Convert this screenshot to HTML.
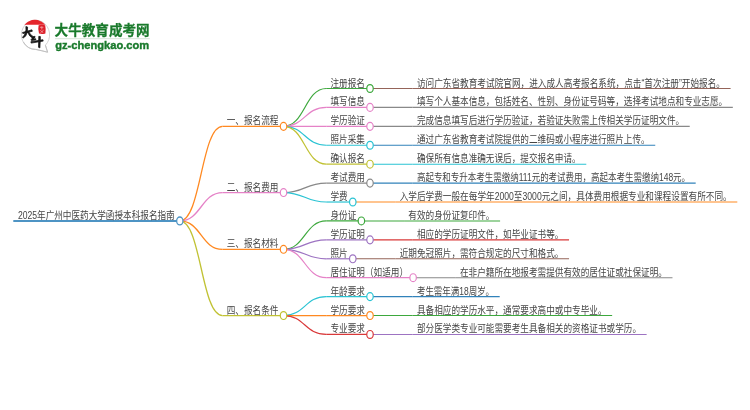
<!DOCTYPE html>
<html lang="zh-CN">
<head>
<meta charset="utf-8">
<title>2025年广州中医药大学函授本科报名指南</title>
<style>
html,body{margin:0;padding:0;background:#fff}
body{width:750px;height:410px;overflow:hidden;font-family:"Liberation Sans",sans-serif}
svg{display:block;filter:blur(0.27px)}
.t text{font-family:"Liberation Sans","Noto Sans CJK SC",sans-serif;font-size:10.5px;fill:#454545}
</style>
</head>
<body>
<svg width="750" height="410" viewBox="0 0 750 410">
<rect width="750" height="410" fill="#fff"/>
<g id="logo">
<path d="M45.4 45.2L47.6 52.2Q42 50.7 35.6 49.4A14.1 14.6 0 1 1 45.4 45.2z" fill="#fff" stroke="#cfcfcf" stroke-width="0.9" stroke-linejoin="round"/>
<path d="M23.4 42A14.1 14.6 0 0 0 35.6 49.4Q42 50.7 47.6 52.2L45.4 45.2" fill="none" stroke="#bdbdbd" stroke-width="0.9" stroke-linejoin="round"/>
<path d="M24.4 24.8A13.9 14.6 0 0 1 45.3 24.8z" fill="#e5262c"/>
<path d="M38.6 25.2q3.4-.9 6.6.1q.9 4.2.2 8.2q-3.3 1-6.4.1q-1.3-4.2-.4-8.4z" fill="#dc1f2a"/>
<path d="M40 27.3h3.4M41.8 26.3v3.2M40.3 30.4l3 2.3M43.6 30.2l-3.2 2.6" stroke="#f4a9a9" stroke-width="0.75" fill="none"/>
<g fill="#161616" stroke="#161616" stroke-width="0.75" stroke-linejoin="round"><path d="M22.5 32.5L31.9 29.8L32.3 31.3L22.9 33.6z"/><path d="M25.9 26.5L27.6 27.1Q27.9 32 26 35.4Q24.8 37.3 23 38.1L22.5 37.3Q24.7 35.3 25.5 32.4Q26.2 29.8 25.9 26.5z"/><path d="M27.2 31.8L28.5 31.5Q30.3 35.2 34.4 37.4L33.6 39Q29.3 36.7 27.2 31.8z"/><path d="M34.1 36.1L35.3 36.9L33 39.1L35.7 38.7L35.8 39.9L31.4 40.6L31.1 39.6z"/><path d="M30.9 41.7L42.9 39.7L43.2 41.1L31.2 43.1z"/><path d="M38.8 36.3L40.4 36.6L39.9 47.9L38.5 47.3z"/></g>
<text x="54.6" y="35.1" textLength="95" lengthAdjust="spacingAndGlyphs" font-family="'Liberation Sans','Noto Sans CJK SC',sans-serif" font-size="13.5" font-weight="700" fill="#1a7a2c" stroke="#1a7a2c" stroke-width="0.3">大牛教育成考网</text>
<path d="M55 38.7H149.8" stroke="#c9dccc" stroke-width="0.8"/>
<text x="55.2" y="48.9" font-family="'Liberation Sans',sans-serif" font-weight="700" font-size="11.6" textLength="94" lengthAdjust="spacingAndGlyphs" fill="#1a7a2c" stroke="#1a7a2c" stroke-width="0.4">gz-chengkao.com</text>
</g>
<g id="links" fill="none" stroke-linecap="butt">
<path d="M370.01 88.5H412.71" stroke="#956459" stroke-width="1.1"/>
<path d="M370.01 107.42H412.71" stroke="#898989" stroke-width="1.1"/>
<path d="M370.01 126.34H412.71" stroke="#898989" stroke-width="1.1"/>
<path d="M370.01 145.26H412.71" stroke="#3182ba" stroke-width="1.1"/>
<path d="M370.01 164.18H412.71" stroke="#2ac3d3" stroke-width="1.1"/>
<path d="M283.53 126.34C304.88 126.34 304.88 88.5 326.23 88.5" stroke="#3da83d" stroke-width="1.2"/>
<path d="M283.53 126.34C304.88 126.34 304.88 107.42 326.23 107.42" stroke="#e582c7" stroke-width="1.2"/>
<path d="M283.53 126.34H326.23" stroke="#e582c7" stroke-width="1.2"/>
<path d="M283.53 126.34C304.88 126.34 304.88 145.26 326.23 145.26" stroke="#2ac3d3" stroke-width="1.2"/>
<path d="M283.53 126.34C304.88 126.34 304.88 164.18 326.23 164.18" stroke="#c1c234" stroke-width="1.2"/>
<path d="M370.01 183.1H412.71" stroke="#3182ba" stroke-width="1.1"/>
<path d="M352.77 202.02H395.47" stroke="#ff8921" stroke-width="1.1"/>
<path d="M283.53 192.56C304.88 192.56 304.88 183.1 326.23 183.1" stroke="#898989" stroke-width="1.2"/>
<path d="M283.53 192.56C304.88 192.56 304.88 202.02 326.23 202.02" stroke="#2ac3d3" stroke-width="1.2"/>
<path d="M361.39 220.94H404.09" stroke="#3da83d" stroke-width="1.1"/>
<path d="M370.01 239.86H412.71" stroke="#d93839" stroke-width="1.1"/>
<path d="M352.77 258.78H395.47" stroke="#956459" stroke-width="1.1"/>
<path d="M413.11 277.7H455.81" stroke="#898989" stroke-width="1.1"/>
<path d="M283.53 249.32C304.88 249.32 304.88 220.94 326.23 220.94" stroke="#3da83d" stroke-width="1.2"/>
<path d="M283.53 249.32C304.88 249.32 304.88 239.86 326.23 239.86" stroke="#9d73c2" stroke-width="1.2"/>
<path d="M283.53 249.32C304.88 249.32 304.88 258.78 326.23 258.78" stroke="#9d73c2" stroke-width="1.2"/>
<path d="M283.53 249.32C304.88 249.32 304.88 277.7 326.23 277.7" stroke="#e582c7" stroke-width="1.2"/>
<path d="M370.01 296.62H412.71" stroke="#3182ba" stroke-width="1.1"/>
<path d="M370.01 315.54H412.71" stroke="#3da83d" stroke-width="1.1"/>
<path d="M370.01 334.46H412.71" stroke="#9d73c2" stroke-width="1.1"/>
<path d="M283.53 315.54C304.88 315.54 304.88 296.62 326.23 296.62" stroke="#2ac3d3" stroke-width="1.2"/>
<path d="M283.53 315.54H326.23" stroke="#ff8921" stroke-width="1.2"/>
<path d="M283.53 315.54C304.88 315.54 304.88 334.46 326.23 334.46" stroke="#d93839" stroke-width="1.2"/>
<path d="M179.81 220.94C201.16 220.94 201.16 126.34 222.51 126.34" stroke="#ff8921" stroke-width="1.3"/>
<path d="M179.81 220.94C201.16 220.94 201.16 192.56 222.51 192.56" stroke="#e582c7" stroke-width="1.3"/>
<path d="M179.81 220.94C201.16 220.94 201.16 249.32 222.51 249.32" stroke="#ff8921" stroke-width="1.3"/>
<path d="M179.81 220.94C201.16 220.94 201.16 315.54 222.51 315.54" stroke="#c1c234" stroke-width="1.3"/>
</g>
<g id="lines" fill="none">
<path d="M412.71 88.5H730.59" stroke="#956459" stroke-width="1.1"/>
<path d="M326.23 88.5H370.01" stroke="#3da83d" stroke-width="1.2"/>
<path d="M412.71 107.42H732.83" stroke="#898989" stroke-width="1.1"/>
<path d="M326.23 107.42H370.01" stroke="#e582c7" stroke-width="1.2"/>
<path d="M412.71 126.34H689.73" stroke="#898989" stroke-width="1.1"/>
<path d="M326.23 126.34H370.01" stroke="#e582c7" stroke-width="1.2"/>
<path d="M412.71 145.26H655.25" stroke="#3182ba" stroke-width="1.1"/>
<path d="M326.23 145.26H370.01" stroke="#2ac3d3" stroke-width="1.2"/>
<path d="M412.71 164.18H586.29" stroke="#2ac3d3" stroke-width="1.1"/>
<path d="M326.23 164.18H370.01" stroke="#c1c234" stroke-width="1.2"/>
<path d="M222.51 126.34H283.53" stroke="#ff8921" stroke-width="1.3"/>
<path d="M412.71 183.1H695.68" stroke="#3182ba" stroke-width="1.1"/>
<path d="M326.23 183.1H370.01" stroke="#898989" stroke-width="1.2"/>
<path d="M395.47 202.02H737.31" stroke="#ff8921" stroke-width="1.1"/>
<path d="M326.23 202.02H352.77" stroke="#2ac3d3" stroke-width="1.2"/>
<path d="M222.51 192.56H283.53" stroke="#e582c7" stroke-width="1.3"/>
<path d="M404.09 220.94H500.09" stroke="#3da83d" stroke-width="1.1"/>
<path d="M326.23 220.94H361.39" stroke="#3da83d" stroke-width="1.2"/>
<path d="M412.71 239.86H569.05" stroke="#d93839" stroke-width="1.1"/>
<path d="M326.23 239.86H370.01" stroke="#9d73c2" stroke-width="1.2"/>
<path d="M395.47 258.78H569.05" stroke="#956459" stroke-width="1.1"/>
<path d="M326.23 258.78H352.77" stroke="#9d73c2" stroke-width="1.2"/>
<path d="M455.81 277.7H672.49" stroke="#898989" stroke-width="1.1"/>
<path d="M326.23 277.7H413.11" stroke="#e582c7" stroke-width="1.2"/>
<path d="M222.51 249.32H283.53" stroke="#ff8921" stroke-width="1.3"/>
<path d="M412.71 296.62H499.7" stroke="#3182ba" stroke-width="1.1"/>
<path d="M326.23 296.62H370.01" stroke="#2ac3d3" stroke-width="1.2"/>
<path d="M412.71 315.54H612.15" stroke="#3da83d" stroke-width="1.1"/>
<path d="M326.23 315.54H370.01" stroke="#ff8921" stroke-width="1.2"/>
<path d="M412.71 334.46H646.63" stroke="#9d73c2" stroke-width="1.1"/>
<path d="M326.23 334.46H370.01" stroke="#d93839" stroke-width="1.2"/>
<path d="M222.51 315.54H283.53" stroke="#c1c234" stroke-width="1.3"/>
<path d="M13.3 220.94H179.81" stroke="#4e94c4" stroke-width="2.1"/>
</g>
<g id="circles" fill="#fff">
<ellipse cx="370.01" cy="88.5" rx="3.25" ry="3.95" stroke="#3da83d" stroke-width="1.2"/>
<ellipse cx="370.01" cy="107.42" rx="3.25" ry="3.95" stroke="#e582c7" stroke-width="1.2"/>
<ellipse cx="370.01" cy="126.34" rx="3.25" ry="3.95" stroke="#e582c7" stroke-width="1.2"/>
<ellipse cx="370.01" cy="145.26" rx="3.25" ry="3.95" stroke="#2ac3d3" stroke-width="1.2"/>
<ellipse cx="370.01" cy="164.18" rx="3.25" ry="3.95" stroke="#c1c234" stroke-width="1.2"/>
<ellipse cx="283.53" cy="126.34" rx="3.25" ry="3.95" stroke="#ff8921" stroke-width="1.2"/>
<ellipse cx="370.01" cy="183.1" rx="3.25" ry="3.95" stroke="#898989" stroke-width="1.2"/>
<ellipse cx="352.77" cy="202.02" rx="3.25" ry="3.95" stroke="#2ac3d3" stroke-width="1.2"/>
<ellipse cx="283.53" cy="192.56" rx="3.25" ry="3.95" stroke="#e582c7" stroke-width="1.2"/>
<ellipse cx="361.39" cy="220.94" rx="3.25" ry="3.95" stroke="#3da83d" stroke-width="1.2"/>
<ellipse cx="370.01" cy="239.86" rx="3.25" ry="3.95" stroke="#9d73c2" stroke-width="1.2"/>
<ellipse cx="352.77" cy="258.78" rx="3.25" ry="3.95" stroke="#9d73c2" stroke-width="1.2"/>
<ellipse cx="413.11" cy="277.7" rx="3.25" ry="3.95" stroke="#e582c7" stroke-width="1.2"/>
<ellipse cx="283.53" cy="249.32" rx="3.25" ry="3.95" stroke="#ff8921" stroke-width="1.2"/>
<ellipse cx="370.01" cy="296.62" rx="3.25" ry="3.95" stroke="#2ac3d3" stroke-width="1.2"/>
<ellipse cx="370.01" cy="315.54" rx="3.25" ry="3.95" stroke="#ff8921" stroke-width="1.2"/>
<ellipse cx="370.01" cy="334.46" rx="3.25" ry="3.95" stroke="#d93839" stroke-width="1.2"/>
<ellipse cx="283.53" cy="315.54" rx="3.25" ry="3.95" stroke="#c1c234" stroke-width="1.2"/>
<ellipse cx="179.81" cy="220.94" rx="3.15" ry="3.95" stroke="#4e94c4" stroke-width="1.3"/>
</g>
<g class="t">
<text x="416.91" y="86.5" textLength="308.08" lengthAdjust="spacingAndGlyphs">访问广东省教育考试院官网，进入成人高考报名系统，点击“首次注册”开始报名。</text>
<text x="330.43" y="86.5" textLength="34.48" lengthAdjust="spacingAndGlyphs">注册报名</text>
<text x="416.91" y="105.42" textLength="310.32" lengthAdjust="spacingAndGlyphs">填写个人基本信息，包括姓名、性别、身份证号码等，选择考试地点和专业志愿。</text>
<text x="330.43" y="105.42" textLength="34.48" lengthAdjust="spacingAndGlyphs">填写信息</text>
<text x="416.91" y="124.34" textLength="267.22" lengthAdjust="spacingAndGlyphs">完成信息填写后进行学历验证，若验证失败需上传相关学历证明文件。</text>
<text x="330.43" y="124.34" textLength="34.48" lengthAdjust="spacingAndGlyphs">学历验证</text>
<text x="416.91" y="143.26" textLength="232.74" lengthAdjust="spacingAndGlyphs">通过广东省教育考试院提供的二维码或小程序进行照片上传。</text>
<text x="330.43" y="143.26" textLength="34.48" lengthAdjust="spacingAndGlyphs">照片采集</text>
<text x="416.91" y="162.18" textLength="163.78" lengthAdjust="spacingAndGlyphs">确保所有信息准确无误后，提交报名申请。</text>
<text x="330.43" y="162.18" textLength="34.48" lengthAdjust="spacingAndGlyphs">确认报名</text>
<text x="226.71" y="124.34" textLength="51.72" lengthAdjust="spacingAndGlyphs">一、报名流程</text>
<text x="416.91" y="181.1" textLength="273.17" lengthAdjust="spacingAndGlyphs">高起专和专升本考生需缴纳111元的考试费用，高起本考生需缴纳148元。</text>
<text x="330.43" y="181.1" textLength="34.48" lengthAdjust="spacingAndGlyphs">考试费用</text>
<text x="399.67" y="200.02" textLength="332.04" lengthAdjust="spacingAndGlyphs">入学后学费一般在每学年2000至3000元之间，具体费用根据专业和课程设置有所不同。</text>
<text x="330.43" y="200.02" textLength="17.24" lengthAdjust="spacingAndGlyphs">学费</text>
<text x="226.71" y="190.56" textLength="51.72" lengthAdjust="spacingAndGlyphs">二、报名费用</text>
<text x="408.29" y="218.94" textLength="86.2" lengthAdjust="spacingAndGlyphs">有效的身份证复印件。</text>
<text x="330.43" y="218.94" textLength="25.86" lengthAdjust="spacingAndGlyphs">身份证</text>
<text x="416.91" y="237.86" textLength="146.54" lengthAdjust="spacingAndGlyphs">相应的学历证明文件，如毕业证书等。</text>
<text x="330.43" y="237.86" textLength="34.48" lengthAdjust="spacingAndGlyphs">学历证明</text>
<text x="399.67" y="256.78" textLength="163.78" lengthAdjust="spacingAndGlyphs">近期免冠照片，需符合规定的尺寸和格式。</text>
<text x="330.43" y="256.78" textLength="17.24" lengthAdjust="spacingAndGlyphs">照片</text>
<text x="460.01" y="275.7" textLength="206.88" lengthAdjust="spacingAndGlyphs">在非户籍所在地报考需提供有效的居住证或社保证明。</text>
<text x="330.43" y="275.7" textLength="77.58" lengthAdjust="spacingAndGlyphs">居住证明（如适用）</text>
<text x="226.71" y="247.32" textLength="51.72" lengthAdjust="spacingAndGlyphs">三、报名材料</text>
<text x="416.91" y="294.62" textLength="77.19" lengthAdjust="spacingAndGlyphs">考生需年满18周岁。</text>
<text x="330.43" y="294.62" textLength="34.48" lengthAdjust="spacingAndGlyphs">年龄要求</text>
<text x="416.91" y="313.54" textLength="189.64" lengthAdjust="spacingAndGlyphs">具备相应的学历水平，通常要求高中或中专毕业。</text>
<text x="330.43" y="313.54" textLength="34.48" lengthAdjust="spacingAndGlyphs">学历要求</text>
<text x="416.91" y="332.46" textLength="224.12" lengthAdjust="spacingAndGlyphs">部分医学类专业可能需要考生具备相关的资格证书或学历。</text>
<text x="330.43" y="332.46" textLength="34.48" lengthAdjust="spacingAndGlyphs">专业要求</text>
<text x="226.71" y="313.54" textLength="51.72" lengthAdjust="spacingAndGlyphs">四、报名条件</text>
<text x="17.9" y="218.94" textLength="156.81" lengthAdjust="spacingAndGlyphs">2025年广州中医药大学函授本科报名指南</text>
</g>
</svg>
</body>
</html>
